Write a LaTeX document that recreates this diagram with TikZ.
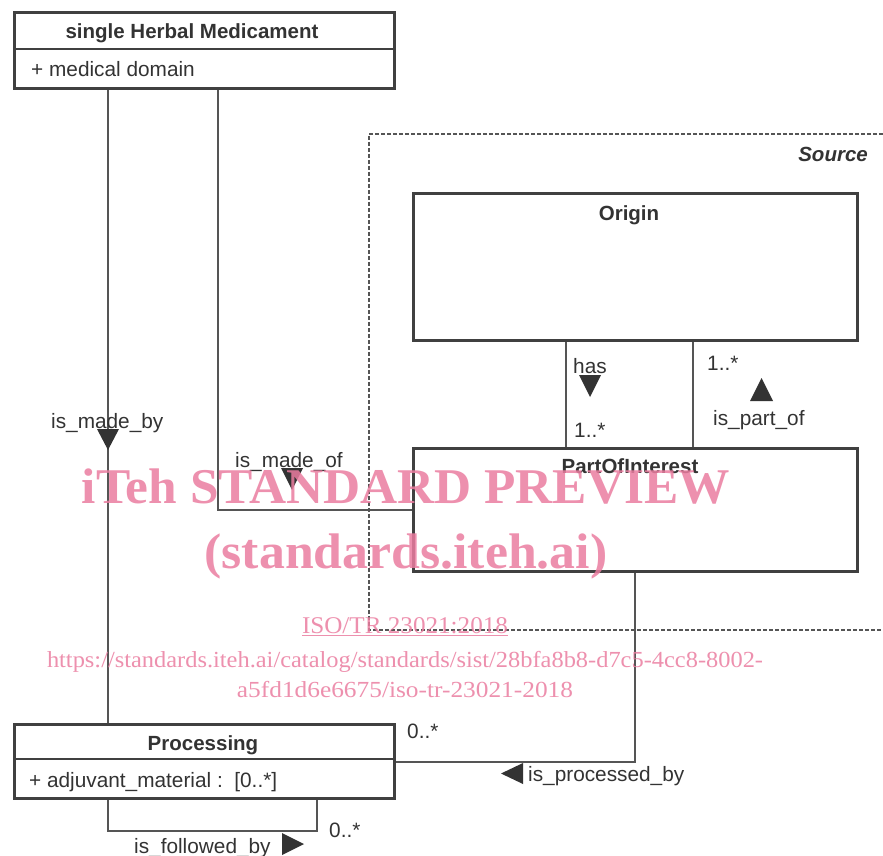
\documentclass[tikz,border=0pt]{standalone}
\usepackage{fontspec}
\usepackage{graphicx}
\setmainfont{Liberation Sans}
\newfontfamily\wmfont{Liberation Serif}
\usetikzlibrary{calc}
\definecolor{ink}{HTML}{333333}
\definecolor{edge}{HTML}{555555}
\definecolor{boxline}{HTML}{404040}
\definecolor{wm}{RGB}{235,125,160}
\tikzset{
  umlbox/.style={draw=boxline, line width=3pt, anchor=north west, inner sep=0pt, fill=white},
  lbl/.style={text=ink, font=\fontsize{20.8}{24}\selectfont, inner sep=0pt, anchor=base west},
  ttl/.style={text=ink, font=\bfseries\fontsize{20.5}{24}\selectfont, inner sep=0pt, anchor=base},
  conn/.style={draw=edge, line width=2pt},
  divider/.style={draw=boxline, line width=1.5pt},
  tri/.style={fill=ink},
  wmark/.style={text=wm, inner sep=0pt, anchor=base, opacity=0.85},
  frame/.style={draw=edge, line width=1.3pt, dash pattern=on 4pt off 2pt},
}
\begin{document}
\begin{tikzpicture}[x=1pt,y=-1pt]
\useasboundingbox[fill=white] (0,0) rectangle (883,856);

% Source frame
\draw[frame] (883,134) -- (369,134) -- (369,630) -- (883,630);
\node[text=ink, font=\bfseries\itshape\fontsize{20.5}{24}\selectfont, inner sep=0pt, anchor=base east] (srcT) at (868,161) {Source};

% classes
\node[umlbox, minimum width=380pt, minimum height=76pt] (shm) at (13,11) {};
\draw[divider] ([yshift=-38pt]shm.north west) -- ([yshift=-38pt]shm.north east);
\node[ttl] (shmT) at (192,39) {single Herbal Medicament};
\node[lbl] (shmA) at (31,77) {+ medical domain};

\node[umlbox, minimum width=444pt, minimum height=147pt] (origin) at (412,192) {};
\node[ttl] (originT) at (629,220) {Origin};

\node[umlbox, minimum width=444pt, minimum height=123pt] (poi) at (412,447) {};
\node[ttl] (poiT) at (630,473) {PartOfInterest};

\node[umlbox, minimum width=380pt, minimum height=74pt] (proc) at (13,723) {};
\draw[divider] ([yshift=-36pt]proc.north west) -- ([yshift=-36pt]proc.north east);
\node[ttl] (procT) at (203,750) {Processing};
\node[lbl] (procA) at (29,787) {+ adjuvant\_material :\ \ [0..*]};

% connectors
\draw[conn] ([xshift=95pt]shm.south west) -- ([xshift=95pt]proc.north west);
\draw[conn] ([xshift=205pt]shm.south west) |- (poi.west);
\draw[conn] ([xshift=154pt]origin.south west) -- ([xshift=154pt]poi.north west);
\draw[conn] ([xshift=281pt]origin.south west) -- ([xshift=281pt]poi.north west);
\draw[conn] ([xshift=223pt]poi.south west) |- (proc.east);
\draw[conn] ([xshift=95pt]proc.south west) -- ++(0,31) -| ([xshift=304pt]proc.south west);

% association labels
\node[lbl] (madeby) at (51,428) {is\_made\_by};
\fill[tri] (97,429) -- (119,429) -- (108,450) -- cycle;
\node[lbl] (madeof) at (235,467) {is\_made\_of};
\fill[tri] (281,468) -- (303,468) -- (292,490) -- cycle;
\node[lbl] (has) at (573,373) {has};
\fill[tri] (579,375) -- (601,375) -- (590,397) -- cycle;
\node[lbl] (hasm) at (574,437) {1..*};
\node[lbl] (partm) at (707,370) {1..*};
\fill[tri] (750,401) -- (773,401) -- (761.5,378) -- cycle;
\node[lbl] (partof) at (713,425) {is\_part\_of};
\node[lbl] (procm) at (407,738) {0..*};
\fill[tri] (523,763) -- (523,784) -- (501,773.5) -- cycle;
\node[lbl] (procby) at (528,781) {is\_processed\_by};
\node[lbl] (follm) at (329,837) {0..*};
\node[lbl] (follby) at (134,853) {is\_followed\_by};
\fill[tri] (282,833) -- (282,855) -- (304,844) -- cycle;

% watermark
\node[wmark] (wm1) at (406,503) {\resizebox{648pt}{\height}{\wmfont\bfseries\fontsize{50}{50}\selectfont iTeh STANDARD PREVIEW}};
\node[wmark] (wm2) at (406,568) {\resizebox{403pt}{\height}{\wmfont\bfseries\fontsize{50}{50}\selectfont (standards.iteh.ai)}};
\node[wmark] (wm3) at (405,633) {\resizebox{206pt}{\height}{\wmfont\fontsize{24}{24}\selectfont\underline{ISO/TR 23021:2018}}};
\node[wmark] (wm4) at (405,667) {\resizebox{716pt}{\height}{\wmfont\fontsize{23}{23}\selectfont https://standards.iteh.ai/catalog/standards/sist/28bfa8b8-d7c5-4cc8-8002-}};
\node[wmark] (wm5) at (405,697) {\resizebox{336pt}{\height}{\wmfont\fontsize{23}{23}\selectfont a5fd1d6e6675/iso-tr-23021-2018}};
\end{tikzpicture}
\end{document}
